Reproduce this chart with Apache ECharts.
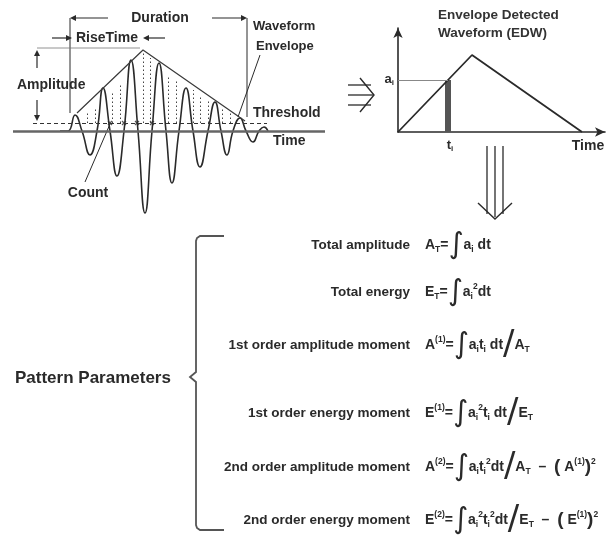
<!DOCTYPE html>
<html><head><meta charset="utf-8">
<script src="https://cdn.jsdelivr.net/npm/echarts@6/dist/echarts.min.js"></script>
<style>html,body{margin:0;padding:0;background:#fff}#c{width:611px;height:543px}</style>
</head><body><div id="c"></div>
<script>
// ---- acoustic emission waveform (time units, amplitude relative to baseline) ----
const waveTime = [50,58,65,72,80,87,93,100,107,114,121,128,135,142,149,156,162,169,176,183,190,198,205,211,217,223,230,236,243,249,254,258];
const waveAmp  = [0,0,16,0,-24,0,43,0,-45,0,71,0,-82,0,68,0,-52,0,43,0,-36,0,29,0,-24,0,13,0,-11,0,4,0];
const envTime  = [67,133,235];
const envAmp   = [18,81,10];
const thresholdAmp = 8;
const countTime = [100,114,127,142];
const dotTime = [77,85,102,110,133,140,158,166,183,190,198,212,220];
const dotTop  = [19,23,39,47,81,73,56,51,41,36,31,23,19];
// ---- envelope detected waveform ----
const edwTime = [0,74,184];
const edwAmp  = [0,77,0];
const tI = 50, aI = 52;
// ---- pattern parameters ----
const paramLabels = ['Total amplitude','Total energy','1st order amplitude moment','1st order energy moment','2nd order amplitude moment','2nd order energy moment'];
const paramFormulas = [
 '{n|A}{s|T}{n|=}{int|∫}{n|a}{s|i}{n| dt}',
 '{n|E}{s|T}{n|=}{int|∫}{n|a}{s|i}{p|2}{n|dt}',
 '{n|A}{p|(1)}{n|=}{int|∫}{n|a}{s|i}{n|t}{s|i}{n| dt}{sl|/}{n|A}{s|T}',
 '{n|E}{p|(1)}{n|=}{int|∫}{n|a}{s|i}{p|2}{n|t}{s|i}{n| dt}{sl|/}{n|E}{s|T}',
 '{n|A}{p|(2)}{n|=}{int|∫}{n|a}{s|i}{n|t}{s|i}{p|2}{n|dt}{sl|/}{n|A}{s|T}{n|  –  }{par|(}{n| A}{p|(1)}{par|)}{p|2}',
 '{n|E}{p|(2)}{n|=}{int|∫}{n|a}{s|i}{p|2}{n|t}{s|i}{p|2}{n|dt}{sl|/}{n|E}{s|T}{n|  –  }{par|(}{n| E}{p|(1)}{par|)}{p|2}'
];

const FF = '"Liberation Sans", Arial, sans-serif';
const INK = '#2a2a2a';
const chart = echarts.init(document.getElementById('c'));

const G = [];
function ln(x1,y1,x2,y2,w,c,dash){G.push({type:'line',shape:{x1,y1,x2,y2},style:{stroke:c||INK,lineWidth:w||1.2,lineDash:dash||null},silent:true});}
function pl(points,w,c){G.push({type:'polyline',shape:{points},style:{stroke:c||INK,lineWidth:w||1.2,fill:null},silent:true});}
function head(x,y,dir,c){
  const s=6,h=3;let p;
  if(dir==='r')p=[[x,y],[x-s,y-h],[x-s,y+h]];
  if(dir==='l')p=[[x,y],[x+s,y-h],[x+s,y+h]];
  if(dir==='u')p=[[x,y],[x-h,y+s],[x+h,y+s]];
  if(dir==='d')p=[[x,y],[x-h,y-s],[x+h,y-s]];
  G.push({type:'polygon',shape:{points:p},style:{fill:c||INK},silent:true});
}
function tx(x,y,t,size,align,extra){
  G.push({type:'text',x,y,silent:true,style:Object.assign({text:t,font:'bold '+size+'px '+FF,fill:INK,align:align||'left',verticalAlign:'middle'},extra||{})});
}

// left panel annotations
ln(70,18,70,113,1); ln(247,18,247,117,1);
ln(72,18,108,18,1.2); head(70,18,'l');
ln(212,18,245,18,1.2); head(247,18,'r');
tx(160,18,'Duration',14,'center');
ln(52,38,66,38,1.2); head(72,38,'r');
tx(107,38,'RiseTime',14,'center');
ln(149,38,165,38,1.2); head(143,38,'l');
ln(37,48,140,48,0.8,'#777');
ln(37,56,37,68,1.2); head(37,50,'u');
tx(17,85,'Amplitude',14,'left');
ln(37,100,37,115,1.2); head(37,121,'d');
tx(88,193,'Count',14,'center');
ln(85,182,110,124,1);
tx(253,26,'Waveform',13,'left');
tx(256,46,'Envelope',13,'left');
ln(260,55,238,117,1);
tx(253,113,'Threshold',14,'left');
tx(273,141,'Time',14,'left');

// EDW texts
const subRich = {a:{fontSize:13,fontWeight:'bold',fontFamily:FF,fill:INK,lineHeight:20,verticalAlign:'middle'},b:{fontSize:8,fontWeight:'bold',fontFamily:FF,fill:INK,lineHeight:12,verticalAlign:'middle',padding:[8,0,0,0]}};
tx(438,15,'Envelope Detected',13.5,'left',{fill:'#333'});
tx(438,33,'Waveform (EDW)',13.5,'left',{fill:'#333'});
tx(394,79,'{a|a}{b|i}',12,'right',{rich:subRich});
tx(450,145,'{a|t}{b|i}',12,'center',{rich:subRich});
tx(588,146,'Time',14,'center');

// triple arrows
ln(348,85,371,85,1.3); ln(348,95,373,95,1.3); ln(348,105,371,105,1.3);
pl([[360,78],[374,95],[360,112]],1.4);
ln(487,146,487,214,1.3); ln(495,146,495,217,1.3); ln(503,146,503,214,1.3);
pl([[478,203],[495,219],[512,203]],1.4);

// brace
pl([[224,236],[200,236],[197,238],[196,241],[196,372],[190,377],[196,382],[196,525],[197,528],[200,530],[224,530]],1.8,'#555');
tx(15,378,'Pattern Parameters',17,'left');

// parameter rows
const rowY = [245,292,345,413,467,520];
const rich = {
  n:{fontSize:14,fontWeight:'bold',fontFamily:FF,fill:INK,lineHeight:32,verticalAlign:'middle'},
  s:{fontSize:8.5,fontWeight:'bold',fontFamily:FF,fill:INK,lineHeight:12,verticalAlign:'middle',padding:[9,0,0,0]},
  p:{fontSize:8.5,fontWeight:'bold',fontFamily:FF,fill:INK,lineHeight:12,verticalAlign:'middle',padding:[0,0,11,0]},
  int:{fontSize:29,fontFamily:'"DejaVu Sans"',fill:INK,lineHeight:32,verticalAlign:'middle'},
  sl:{fontSize:34,fontFamily:'"DejaVu Sans"',fill:INK,lineHeight:32,verticalAlign:'middle'},
  par:{fontSize:19,fontWeight:'bold',fontFamily:FF,fill:INK,lineHeight:32,verticalAlign:'middle'}
};
paramLabels.forEach((l,i)=>{
  tx(410,rowY[i],l,13.5,'right');
  tx(425,rowY[i],paramFormulas[i],14,'left',{rich});
});

const waveData = waveTime.map((t,i)=>[t,waveAmp[i]]);
const envData = envTime.map((t,i)=>[t,envAmp[i]]);
const dotLines = dotTime.map((t,i)=>[{coord:[t,thresholdAmp]},{coord:[t,dotTop[i]]}]);
const edwData = edwTime.map((t,i)=>[t,edwAmp[i]]);

chart.setOption({
  animation:false,
  grid:[
    {left:10,top:31,width:320,height:200},
    {left:398,top:28,width:207,height:104}
  ],
  xAxis:[
    {type:'value',gridIndex:0,min:0,max:320,show:false},
    {type:'value',gridIndex:1,min:0,max:207,axisLine:{show:true,onZero:false,symbol:['none','arrow'],symbolSize:[7,10],lineStyle:{color:INK,width:1.6}},axisTick:{show:false},axisLabel:{show:false},splitLine:{show:false}}
  ],
  yAxis:[
    {type:'value',gridIndex:0,min:-100,max:100,show:false},
    {type:'value',gridIndex:1,min:0,max:104,axisLine:{show:true,onZero:false,symbol:['none','arrow'],symbolSize:[7,10],lineStyle:{color:INK,width:1.6}},axisTick:{show:false},axisLabel:{show:false},splitLine:{show:false}}
  ],
  series:[
    {type:'line',xAxisIndex:0,yAxisIndex:0,data:waveData,smooth:0.5,symbol:'none',lineStyle:{color:INK,width:1.6},z:3,
     markLine:{silent:true,symbol:'none',label:{show:false},animation:false,data:[
       [{coord:[3,0],lineStyle:{color:'#666',width:2.5,type:'solid'}},{coord:[315,0]}],
       [{coord:[23,thresholdAmp],lineStyle:{color:'#333',width:1,type:[4,3]}},{coord:[257,thresholdAmp]}]
     ]}},
    {type:'line',xAxisIndex:0,yAxisIndex:0,data:[],symbol:'none',
     markLine:{silent:true,symbol:'none',label:{show:false},animation:false,lineStyle:{color:'#444',width:1,type:[1.5,2.5]},data:dotLines}},
    {type:'line',xAxisIndex:0,yAxisIndex:0,data:envData,symbol:'none',lineStyle:{color:'#3a3a3a',width:1.2}},
    {type:'scatter',xAxisIndex:0,yAxisIndex:0,data:countTime.map(t=>[t,thresholdAmp]),symbol:'path://M0,0L10,10M10,0L0,10',symbolSize:4,itemStyle:{color:'none',borderColor:INK,borderWidth:1.2}},
    {type:'line',xAxisIndex:1,yAxisIndex:1,data:edwData,symbol:'none',lineStyle:{color:INK,width:1.8},
     markLine:{silent:true,symbol:'none',label:{show:false},animation:false,data:[
       [{coord:[0,aI],lineStyle:{color:'#888',width:1,type:'solid'}},{coord:[tI,aI]}]
     ]}},
    {type:'bar',xAxisIndex:1,yAxisIndex:1,data:[[tI,aI]],barWidth:6,itemStyle:{color:'#555'}}
  ],
  graphic:G
});
</script></body></html>
